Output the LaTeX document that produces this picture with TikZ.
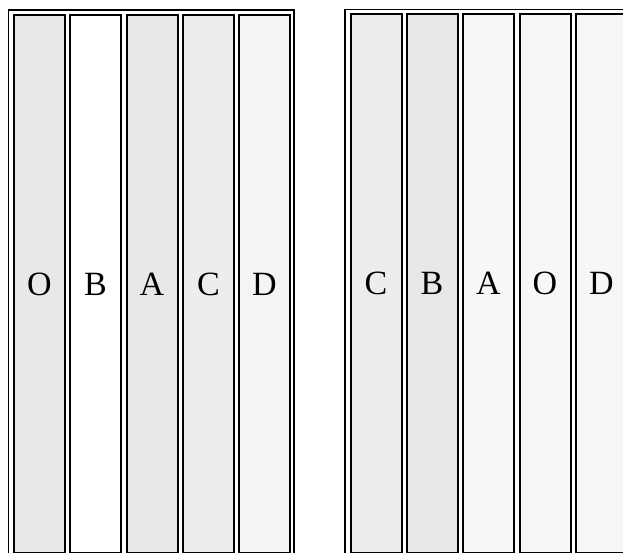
\documentclass[tikz,border=0pt]{standalone}
\usepackage{fontspec}
\setmainfont{Liberation Serif}
\begin{document}
\begin{tikzpicture}[x=1pt,y=-1pt,
  stripbox/.style={draw=black, line width=2pt, minimum width=51pt, minimum height=538pt,
    inner sep=0pt, font=\fontsize{34}{34}\selectfont, anchor=north west, text depth=0pt},
  frame/.style={draw=black, line width=1.6pt}]
\useasboundingbox (0,0) rectangle (623,553);
\clip (0,0) rectangle (623,553);
% left group frame
\draw[frame] (8.5,10) rectangle (294,560);
\node[stripbox, fill=gray!18] (lO) at (13,14) {O};
\node[stripbox, fill=white]   (lB) at (69,14) {B};
\node[stripbox, fill=gray!18] (lA) at (125.5,14) {A};
\node[stripbox, fill=gray!14] (lC) at (182,14) {C};
\node[stripbox, fill=gray!9]  (lD) at (238,14) {D};
% right group frame
\draw[frame] (345,9.5) rectangle (640,560);
\node[stripbox, fill=gray!14] (rC) at (349.5,13.5) {C};
\node[stripbox, fill=gray!18] (rB) at (405.5,13.5) {B};
\node[stripbox, fill=gray!6]  (rA) at (462,13.5) {A};
\node[stripbox, fill=gray!6]  (rO) at (518.5,13.5) {O};
\node[stripbox, fill=gray!6]  (rD) at (575,13.5) {D};
\end{tikzpicture}
\end{document}
